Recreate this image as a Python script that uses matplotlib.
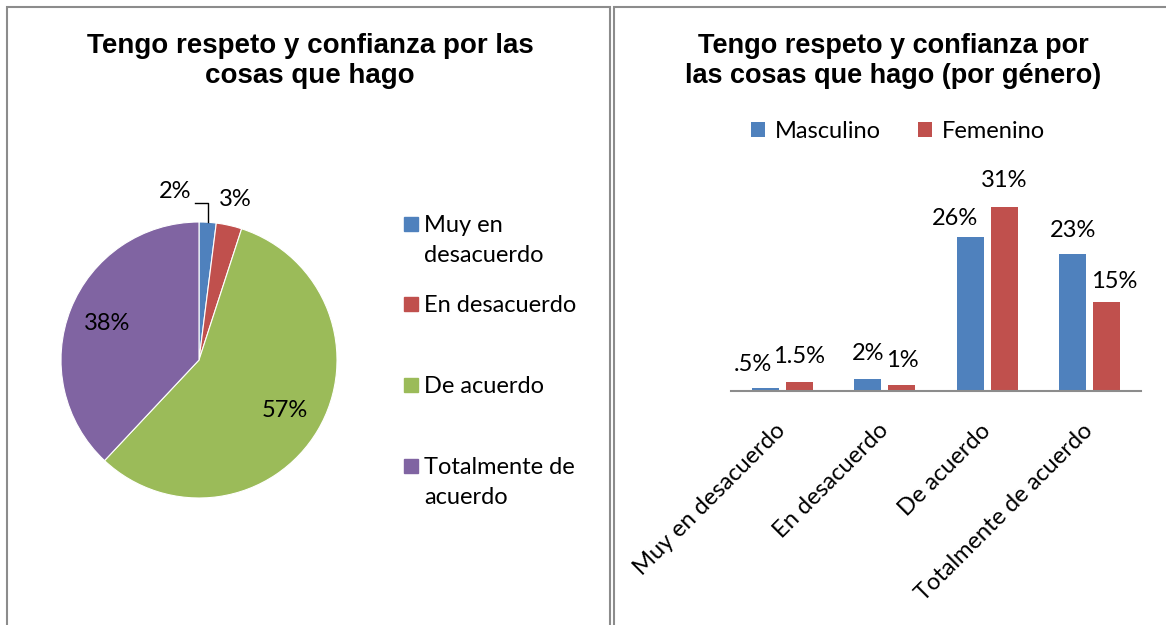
import numpy as np
import matplotlib
matplotlib.use("Agg")
import matplotlib.pyplot as plt
from matplotlib.patches import Rectangle

# datos
categorias = ["Muy en desacuerdo", "En desacuerdo", "De acuerdo", "Totalmente de acuerdo"]
leyenda_pie = ["Muy en\ndesacuerdo", "En desacuerdo", "De acuerdo", "Totalmente de\nacuerdo"]
total = [2, 3, 57, 38]
masculino = [0.5, 2, 26, 23]
femenino = [1.5, 1, 31, 15]
etq_masc = [".5%", "2%", "26%", "23%"]
etq_fem = ["1.5%", "1%", "31%", "15%"]

# desplazamientos de etiquetas (px) para evitar solapes, como en Excel
desp_masc = [(-12, 24), (0, 26), (-15, 18), (0, 24)]
desp_fem = [(0, 26), (0, 25), (0, 26), (7, 20)]

colores = ["#4F81BD", "#C0504D", "#9BBB59", "#8064A2"]
W, H = 1166, 625
label_font = "Lato"
title_font = "Liberation Sans"
fs = 17

fig = plt.figure(figsize=(W / 100, H / 100), dpi=100)


def fx(px):
    return px / W


def fy(py):
    return 1 - py / H


# bordes de los paneles
fig.patches.append(Rectangle((fx(7), fy(640)), fx(603), fy(7) - fy(640), transform=fig.transFigure,
                             fill=False, edgecolor="#8c8c8c", lw=1.5))
fig.patches.append(Rectangle((fx(614), fy(640)), fx(600), fy(7) - fy(640), transform=fig.transFigure,
                             fill=False, edgecolor="#8c8c8c", lw=1.5))

# ---- pastel ----
fig.text(fx(310), fy(61), "Tengo respeto y confianza por las\ncosas que hago", ha="center", va="center",
         fontsize=20, fontweight="bold", family=title_font, linespacing=1.2)

ax1 = fig.add_axes([fx(61), fy(498), fx(276), fy(222) - fy(498)])
wedges, _ = ax1.pie(total, colors=colores, startangle=90, counterclock=False, radius=1,
                    wedgeprops=dict(edgecolor="white", linewidth=0.8))
ax1.set_xlim(-1, 1)
ax1.set_ylim(-1, 1)
ax1.set_aspect("equal")
ax1.axis("off")

for i, w in enumerate(wedges):
    ang = np.deg2rad((w.theta1 + w.theta2) / 2)
    txt = f"{total[i]}%"
    if total[i] >= 10:
        ax1.text(0.72 * np.cos(ang), 0.72 * np.sin(ang), txt, ha="center", va="center",
                 fontsize=fs, family=label_font)
    elif i == 0:
        x0, y0 = np.cos(ang), np.sin(ang)
        ax1.plot([x0, x0, x0 - 0.09], [y0, 1.14, 1.14], color="black", lw=1, clip_on=False)
        ax1.text(-0.17, 1.22, txt, ha="center", va="center", fontsize=fs, family=label_font)
    else:
        ax1.text(1.19 * np.cos(ang), 1.19 * np.sin(ang), txt, ha="center", va="center",
                 fontsize=fs, family=label_font)

# leyenda del pastel (primera linea alineada con el cuadro)
for i, (lab, c) in enumerate(zip(leyenda_pie, colores)):
    yy = 224 + i * 80.5
    fig.patches.append(Rectangle((fx(404), fy(yy + 7)), fx(14), fy(yy - 7) - fy(yy + 7),
                                 transform=fig.transFigure, color=c))
    fig.text(fx(424), fy(yy - 9), lab, ha="left", va="top", fontsize=fs, family=label_font,
             linespacing=1.55)

# ---- barras ----
fig.text(fx(893), fy(61), "Tengo respeto y confianza por\nlas cosas que hago (por género)", ha="center",
         va="center", fontsize=19.5, fontweight="bold", family=title_font, linespacing=1.2)

ax2 = fig.add_axes([fx(731), fy(391), fx(410), fy(185) - fy(391)])
x = np.arange(len(categorias))
bw = 0.265
off = 0.167
b1 = ax2.bar(x - off, masculino, bw, color=colores[0], label="Masculino")
b2 = ax2.bar(x + off, femenino, bw, color=colores[1], label="Femenino")
ax2.set_xlim(-0.5, 3.5)
ax2.set_ylim(0, 34.7)
for s in ["top", "left", "right"]:
    ax2.spines[s].set_visible(False)
ax2.spines["bottom"].set_color("#8c8c8c")
ax2.spines["bottom"].set_linewidth(1.5)
ax2.set_yticks([])
ax2.set_xticks(x)
ax2.set_xticklabels(categorias, rotation=45, ha="right", va="center", rotation_mode="anchor",
                    fontsize=fs, family=label_font)
ax2.tick_params(axis="x", length=0, pad=26)

for bars, etqs, desp in [(b1, etq_masc, desp_masc), (b2, etq_fem, desp_fem)]:
    for rect, t, (dx, dy) in zip(bars, etqs, desp):
        ax2.annotate(t, (rect.get_x() + rect.get_width() / 2, rect.get_height()),
                     xytext=(dx * 0.72, dy * 0.72), textcoords="offset points",
                     ha="center", va="center", fontsize=fs, family=label_font)

fig.legend(handles=[b1, b2], loc="center", bbox_to_anchor=(fx(898), fy(131)), ncol=2, frameon=False,
           prop=dict(family=label_font, size=fs), handlelength=0.6, handleheight=0.6,
           handletextpad=0.4, columnspacing=1.6)

fig.savefig("out.png", dpi=100, facecolor="white")
